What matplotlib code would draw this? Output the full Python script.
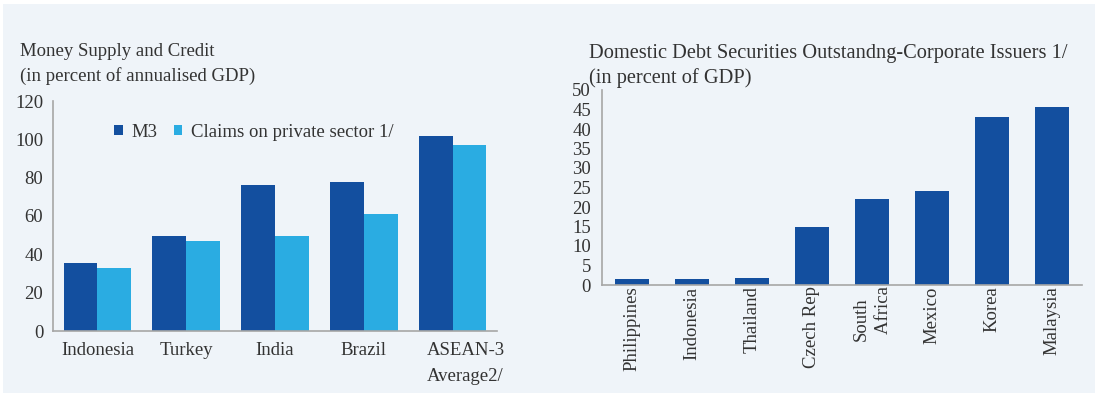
import numpy as np
import matplotlib.pyplot as plt
from matplotlib.patches import Rectangle
from matplotlib.transforms import ScaledTranslation

# ---------------------------------------------------------------
# Data
# ---------------------------------------------------------------
left_categories = ["Indonesia", "Turkey", "India", "Brazil", "ASEAN-3\nAverage2/"]
m3 = [35.5, 49.5, 76, 78, 101.5]
claims = [33, 47, 49.5, 61, 97]
left_ticks = [0, 20, 40, 60, 80, 100, 120]

right_categories = ["Philippines", "Indonesia", "Thailand", "Czech Rep",
                    "South\n    Africa", "Mexico", "Korea", "Malaysia"]
corp_debt = [1.5, 1.5, 1.8, 14.9, 22, 24.1, 43.1, 45.6]
right_ticks = [0, 5, 10, 15, 20, 25, 30, 35, 40, 45, 50]

DARK = "#134F9F"
LIGHT = "#2AACE2"
PANEL = "#EFF4F9"
TXT = "#333333"
SPINE = "#A6A6A6"
FS = 13.5

plt.rcParams["font.family"] = ["Liberation Serif", "DejaVu Serif"]
plt.rcParams["text.color"] = TXT

fig = plt.figure(figsize=(10.95, 3.93), dpi=100, facecolor="white")
W, H = 1095, 393
fig.patches.append(Rectangle((3 / W, 0), 1, 1 - 4 / H, transform=fig.transFigure,
                             facecolor=PANEL, edgecolor="none", zorder=-10))


def px_axes(x0, x1, y_top, y_bot):
    return fig.add_axes([x0 / W, 1 - y_bot / H, (x1 - x0) / W, (y_bot - y_top) / H])


def style(ax):
    ax.set_facecolor("none")
    for s in ["top", "right"]:
        ax.spines[s].set_visible(False)
    for s in ["left", "bottom"]:
        ax.spines[s].set_color(SPINE)
        ax.spines[s].set_linewidth(1.2)
    ax.tick_params(length=0, colors=TXT, labelsize=FS)


# ---------------------------------------------------------------
# Left: money supply and credit
# ---------------------------------------------------------------
ax1 = px_axes(53, 497, 101, 331)
style(ax1)
x = np.arange(len(left_categories))
w = 0.38
ax1.bar(x - w / 2, m3, w, color=DARK, label="M3")
ax1.bar(x + w / 2, claims, w, color=LIGHT, label="Claims on private sector 1/")
ax1.set_xlim(-0.5, len(left_categories) - 0.5)
ax1.set_ylim(0, 120)
ax1.set_yticks(left_ticks)
ax1.set_xticks(x)
ax1.set_xticklabels(left_categories, ha="center", linespacing=1.7)
ax1.tick_params(axis="x", pad=8)
ax1.tick_params(axis="y", pad=7)
last = ax1.get_xticklabels()[-1]
last.set_horizontalalignment("left")
last.set_transform(last.get_transform() +
                   ScaledTranslation(-0.26, 0, fig.dpi_scale_trans))
ax1.legend(loc="upper left", bbox_to_anchor=(0.1, 0.975), ncol=2, frameon=False,
           fontsize=FS, handlelength=0.45, handleheight=0.45, handletextpad=0.45,
           columnspacing=0.9)
fig.text(20 / W, 1 - 64 / H, "Money Supply and Credit\n(in percent of annualised GDP)",
         ha="left", va="center", fontsize=FS, linespacing=1.55)

# ---------------------------------------------------------------
# Right: corporate debt securities
# ---------------------------------------------------------------
ax2 = px_axes(602, 1082, 90, 285)
style(ax2)
x2 = np.arange(len(right_categories))
ax2.bar(x2, corp_debt, 0.58, color=DARK)
ax2.set_xlim(-0.5, len(right_categories) - 0.5)
ax2.set_ylim(0, 50)
ax2.set_yticks(right_ticks)
ax2.set_xticks(x2)
ax2.set_xticklabels(right_categories, rotation=90, va="top", ha="center",
                    linespacing=1.4)
ax2.tick_params(axis="x", pad=1)
ax2.tick_params(axis="y", pad=8)
fig.text(589 / W, 1 - 66 / H,
         "Domestic Debt Securities Outstandng-Corporate Issuers 1/\n(in percent of GDP)",
         ha="left", va="center", fontsize=14.7, linespacing=1.4)

fig.savefig("out.png", dpi=100, facecolor="white")
